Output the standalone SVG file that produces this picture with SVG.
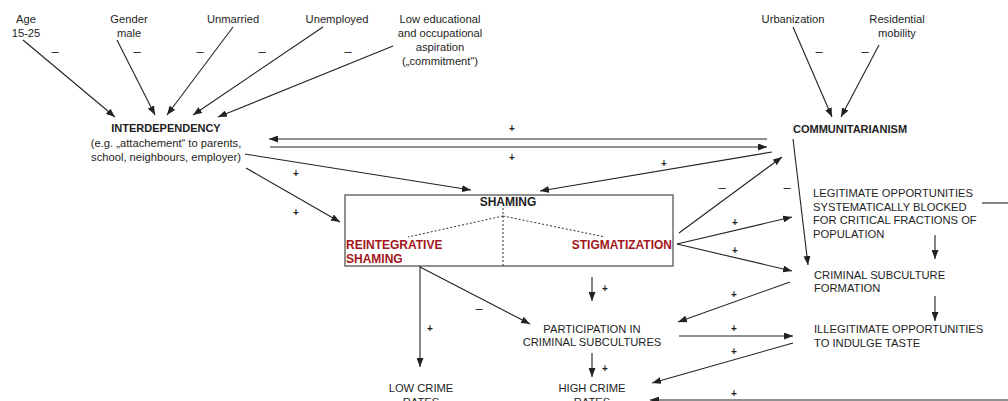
<svg xmlns="http://www.w3.org/2000/svg" width="1008" height="401" viewBox="0 0 1008 401">
<defs>
<marker id="ah" markerUnits="userSpaceOnUse" markerWidth="9" markerHeight="7" refX="9" refY="3.5" orient="auto">
<path d="M0,0 L9,3.5 L0,7 z" fill="#222"/>
</marker>
<style>
text{font-family:"Liberation Sans",Arial,sans-serif;fill:#1e1e1e}
.t{font-size:11.2px}
.m{text-anchor:middle}
.b{font-weight:bold;font-size:11px}
.r{fill:#a3161b;font-weight:bold;font-size:12px}
.sg{font-size:10px;font-weight:bold;text-anchor:middle}
.mn{font-size:13px;text-anchor:middle}
.c line{stroke:#222;stroke-width:1.1;fill:none}
.a{marker-end:url(#ah)}
.box{fill:none;stroke:#555;stroke-width:1.3}
.dot{stroke:#333;stroke-width:1;stroke-dasharray:2,2;fill:none}
</style>
</defs>
<rect width="1008" height="401" fill="#fff"/>

<g id="age"><text class="t m" x="26" y="23">Age</text><text class="t m" x="26" y="37">15-25</text></g>
<g id="gender"><text class="t m" x="129" y="23">Gender</text><text class="t m" x="129" y="37">male</text></g>
<g id="unmarried"><text class="t m" x="233" y="23">Unmarried</text></g>
<g id="unemployed"><text class="t m" x="337" y="23">Unemployed</text></g>
<g id="lowedu"><text class="t m" x="440" y="23">Low educational</text><text class="t m" x="440" y="37">and occupational</text><text class="t m" x="440" y="51">aspiration</text><text class="t m" x="440" y="65">(„commitment“)</text></g>
<g id="urbanization"><text class="t m" x="793" y="23">Urbanization</text></g>
<g id="residential"><text class="t m" x="897" y="23">Residential</text><text class="t m" x="897" y="37">mobility</text></g>

<g id="interdependency"><text class="b m" x="166" y="132">INTERDEPENDENCY</text><text class="t m" x="166" y="147">(e.g. „attachement“ to parents,</text><text class="t m" x="166" y="161">school, neighbours, employer)</text></g>
<g id="communitarianism"><text class="b" x="793" y="133">COMMUNITARIANISM</text></g>

<g id="shaming">
<rect class="box" x="345" y="195" width="328" height="71"/>
<text x="508" y="206" style="font-weight:bold;font-size:12px;text-anchor:middle">SHAMING</text>
<line class="dot" x1="503" y1="208" x2="503" y2="266"/>
<line class="dot" x1="503" y1="216" x2="408" y2="237"/>
<line class="dot" x1="503" y1="216" x2="605" y2="237"/>
<text class="r" x="346" y="249">REINTEGRATIVE</text>
<text class="r" x="346" y="263">SHAMING</text>
<text class="r" x="672" y="249" text-anchor="end">STIGMATIZATION</text>
</g>

<g id="legitimate"><text class="t" x="813" y="197">LEGITIMATE OPPORTUNITIES</text><text class="t" x="813" y="211">SYSTEMATICALLY BLOCKED</text><text class="t" x="813" y="224">FOR CRITICAL FRACTIONS OF</text><text class="t" x="813" y="238">POPULATION</text></g>
<g id="subculture"><text class="t" x="814" y="279">CRIMINAL SUBCULTURE</text><text class="t" x="814" y="292">FORMATION</text></g>
<g id="illegitimate"><text class="t" x="814" y="333">ILLEGITIMATE OPPORTUNITIES</text><text class="t" x="814" y="347">TO INDULGE TASTE</text></g>
<g id="participation"><text class="t m" x="592" y="333">PARTICIPATION IN</text><text class="t m" x="592" y="346">CRIMINAL SUBCULTURES</text></g>
<g id="lowcrime"><text class="t m" x="421" y="392">LOW CRIME</text><text class="t m" x="421" y="406">RATES</text></g>
<g id="highcrime"><text class="t m" x="592" y="392">HIGH CRIME</text><text class="t m" x="592" y="406">RATES</text></g>

<g id="connectors" class="c">
<line class="a" x1="23" y1="40" x2="115" y2="117"/>
<line class="a" x1="117" y1="40" x2="155" y2="115"/>
<line class="a" x1="233" y1="27" x2="167" y2="115"/>
<line class="a" x1="323" y1="27" x2="193" y2="115"/>
<line class="a" x1="393" y1="46" x2="218" y2="117"/>
<line class="a" x1="793" y1="27" x2="832" y2="117"/>
<line class="a" x1="879" y1="45" x2="841" y2="117"/>
<line class="a" x1="767" y1="139" x2="269" y2="139"/>
<line class="a" x1="270" y1="147" x2="767" y2="147"/>
<line class="a" x1="245" y1="154" x2="471" y2="190"/>
<line class="a" x1="246" y1="168" x2="340" y2="222"/>
<line class="a" x1="772" y1="152" x2="540" y2="191"/>
<line class="a" x1="679" y1="233" x2="782" y2="157"/>
<line class="a" x1="793" y1="139" x2="808" y2="265"/>
<line class="a" x1="677" y1="244" x2="792" y2="217"/>
<line class="a" x1="677" y1="244" x2="792" y2="271"/>
<line x1="982" y1="203" x2="1008" y2="203"/>
<line class="a" x1="935" y1="235" x2="935" y2="259"/>
<line class="a" x1="935" y1="296" x2="935" y2="321"/>
<line class="a" x1="420" y1="266" x2="420" y2="367"/>
<line class="a" x1="420" y1="267" x2="530" y2="324"/>
<line class="a" x1="592" y1="277" x2="592" y2="301"/>
<line class="a" x1="790" y1="282" x2="678" y2="322"/>
<line class="a" x1="679" y1="336" x2="793" y2="336"/>
<line class="a" x1="793" y1="343" x2="652" y2="383"/>
<line class="a" x1="592" y1="353" x2="592" y2="377"/>
<line class="a" x1="1008" y1="400" x2="650" y2="400"/>

<text class="mn" x="55" y="56">–</text>
<text class="mn" x="137" y="56">–</text>
<text class="mn" x="200" y="56">–</text>
<text class="mn" x="262" y="56">–</text>
<text class="mn" x="348" y="56">–</text>
<text class="mn" x="819" y="56">–</text>
<text class="mn" x="865" y="56">–</text>
<text class="sg" x="512" y="132">+</text>
<text class="sg" x="512" y="161">+</text>
<text class="sg" x="296" y="177">+</text>
<text class="sg" x="296" y="216">+</text>
<text class="sg" x="664" y="167">+</text>
<text class="mn" x="722" y="192">–</text>
<text class="mn" x="787" y="192">–</text>
<text class="sg" x="735" y="226">+</text>
<text class="sg" x="735" y="254">+</text>
<text class="mn" x="479" y="313">–</text>
<text class="sg" x="430" y="332">+</text>
<text class="sg" x="605" y="292">+</text>
<text class="sg" x="734" y="298">+</text>
<text class="sg" x="734" y="332">+</text>
<text class="sg" x="734" y="355">+</text>
<text class="sg" x="605" y="372">+</text>
<text class="sg" x="734" y="397">+</text>
</g>
</svg>
